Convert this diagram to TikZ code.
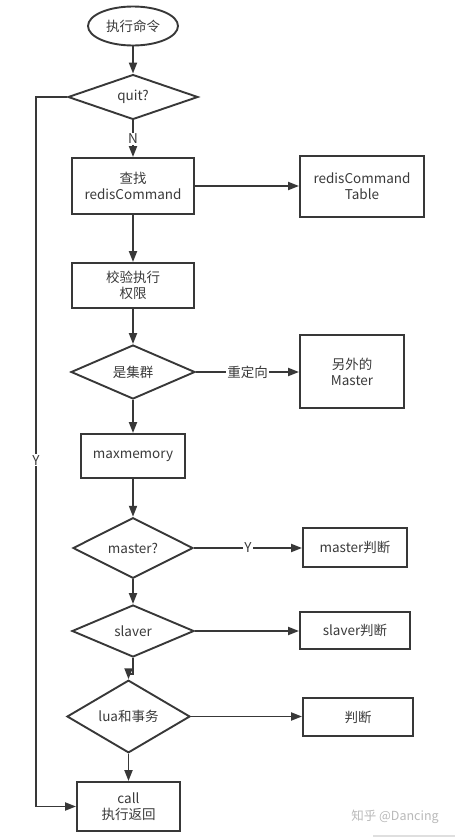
\documentclass[tikz,border=0pt]{standalone}
\usepackage{fontspec}
\setmainfont{Noto Sans CJK SC}
\usetikzlibrary{shapes.geometric,arrows.meta,calc}
\definecolor{ln}{HTML}{383838}
\definecolor{tx}{HTML}{3A3A3A}
\begin{document}
\begin{tikzpicture}[x=1pt,y=-1pt,
  every node/.style={font=\fontsize{13.5}{16}\selectfont, text=tx},
  base/.style={draw=ln, line width=1.9pt, inner sep=0pt, align=center},
  rbox/.style={base, rectangle},
  dia/.style={base, diamond},
  oval/.style={base, ellipse},
  arr/.style={draw=ln, line width=1.9pt, -{Triangle[length=11pt,width=8pt]}},
  lbl/.style={fill=white, inner sep=1pt}
]
\useasboundingbox (0,0) rectangle (455,838);
\node[oval, minimum width=90pt, minimum height=39pt] (start) at (133,26) {执行命令};
\node[dia, minimum width=130pt, minimum height=44pt] (quit) at (133,97) {quit?};
\node[rbox, minimum width=122pt, minimum height=56pt] (find) at (133,186) {查找\\redisCommand};
\node[rbox, minimum width=124pt, minimum height=61pt] (table) at (362,186.5) {redisCommand\\Table};
\node[rbox, minimum width=122pt, minimum height=45pt] (check) at (133,285.5) {校验执行\\权限};
\node[dia, minimum width=124pt, minimum height=54pt] (cluster) at (133,372) {是集群};
\node[rbox, minimum width=104pt, minimum height=73pt] (other) at (352,371.5) {另外的\\Master};
\node[rbox, minimum width=104pt, minimum height=44pt] (maxmem) at (133,456) {maxmemory};
\node[dia, minimum width=120pt, minimum height=46pt] (master) at (133,548) {master?};
\node[rbox, minimum width=104pt, minimum height=39pt] (masterj) at (355,547.5) {master判断};
\node[dia, minimum width=122pt, minimum height=52pt] (slaver) at (133,631) {slaver};
\node[rbox, minimum width=110pt, minimum height=37pt] (slaverj) at (355,630.5) {slaver判断};
\node[dia, minimum width=123pt, minimum height=51pt] (lua) at (128.5,716.5) {lua和事务};
\node[rbox, minimum width=110pt, minimum height=38pt] (judge) at (358,717) {判断};
\node[rbox, minimum width=103pt, minimum height=49pt] (call) at (128.5,806.5) {call\\执行返回};

\draw[arr] (start) -- (quit);
\draw[arr] (quit) -- node[lbl] {N} (find);
\draw[arr] (find.east) -- (table.west |- find.east);
\draw[arr] (find) -- (check);
\draw[arr] (check) -- (cluster);
\draw[arr] (cluster.east) -- node[lbl] {重定向} (other.west |- cluster.east);
\draw[arr] (cluster) -- (maxmem);
\draw[arr] (maxmem) -- (master);
\draw[arr] (master.east) -- node[lbl] {Y} (masterj.west |- master.east);
\draw[arr] (master) -- (slaver);
\draw[arr] (slaver.east) -- (slaverj.west |- slaver.east);
\coordinate (kink) at (133,674);
\draw[arr] (slaver.south) -- (kink) -| (lua.north);
\draw[arr] (lua.east) -- (judge.west |- lua.east);
\draw[arr] (lua) -- (call);
\coordinate (lp) at (36,97);
\draw[arr] (quit.west) -- (lp) |- node[lbl, pos=0.256] {Y} (call.west);

\node[text=gray!55, font=\fontsize{12.5}{15}\selectfont] (wm) at (395,817) {知乎 @Dancing};
\draw[gray!25, line width=2.5pt] (373,836) -- (455,836);
\end{tikzpicture}
\end{document}
